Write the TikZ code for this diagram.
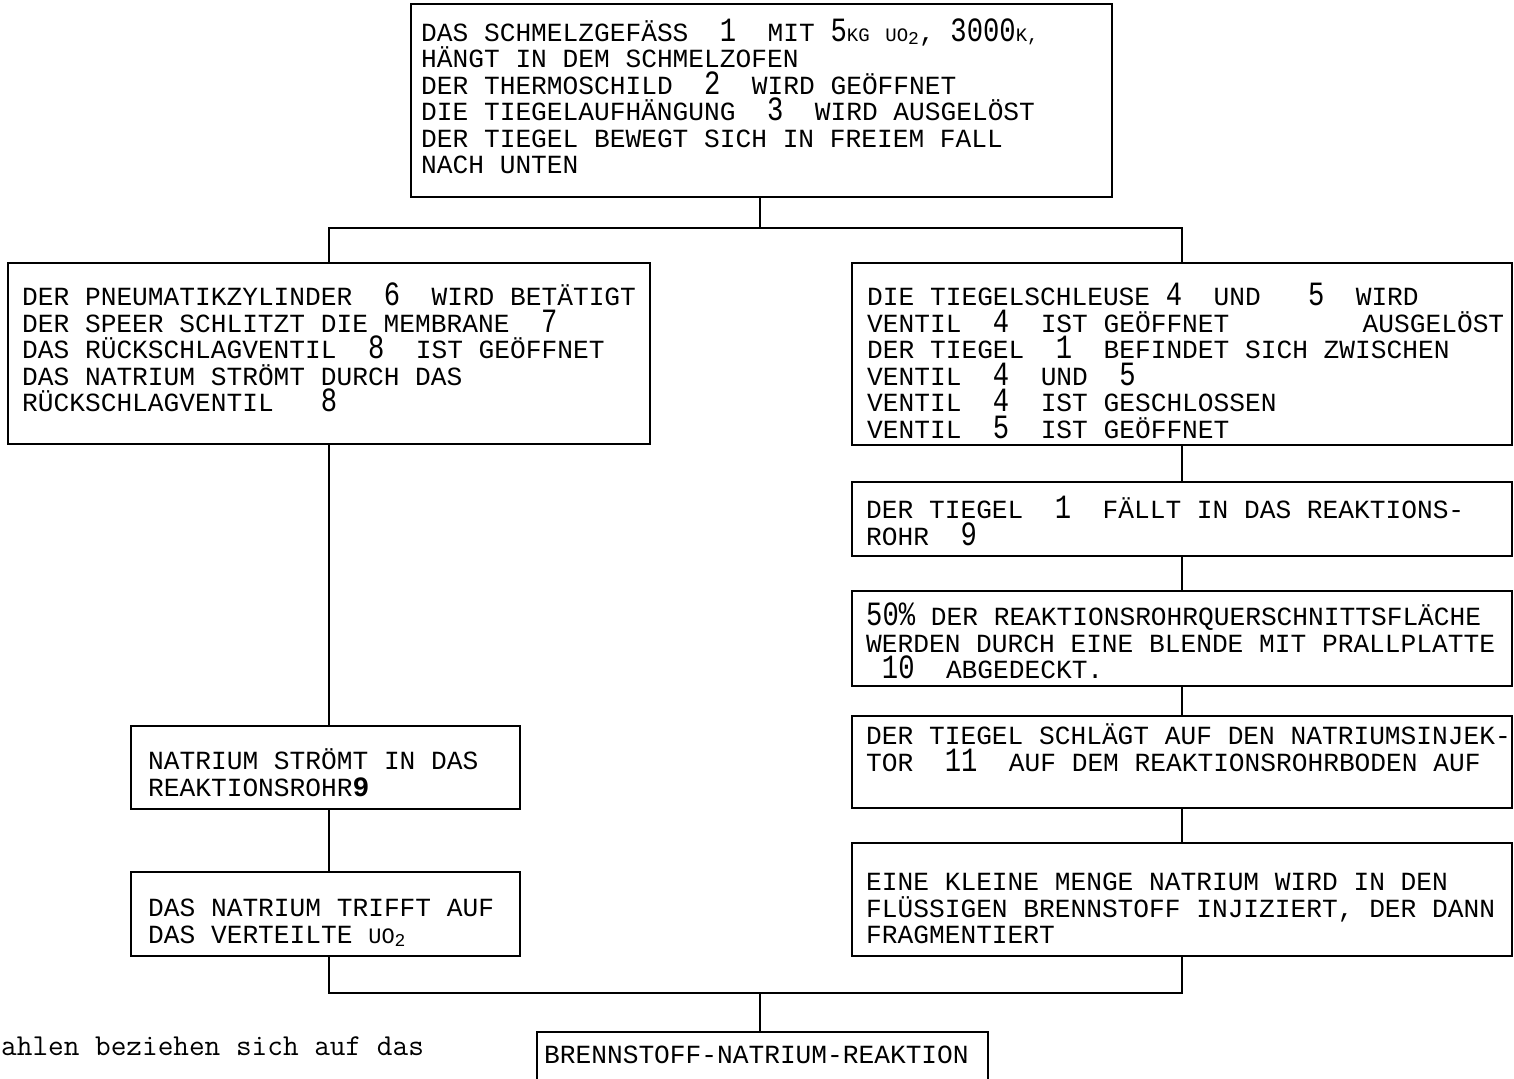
\documentclass[tikz,border=0pt]{standalone}
\usepackage{fontspec}
\newfontfamily\tfont{Liberation Mono}
\newfontfamily\dfont[FakeStretch=0.8]{Liberation Mono}
\newcommand{\Dg}[1]{\smash{{\dfont\fontsize{34}{26.5}\selectfont #1}}}
\newcommand{\Sm}[1]{{\fontsize{19}{26.5}\selectfont #1}}
\newcommand{\Sub}[1]{\raisebox{-3pt}{\fontsize{18}{20}\selectfont #1}}
\newcommand{\setsp}{\spaceskip 15.72pt\relax\xspaceskip 15.72pt\relax}
\tikzset{
  box/.style={draw, line width=1.6pt, inner sep=0pt},
  txt/.style={anchor=base west, inner sep=0pt, align=left,
    font=\tfont\fontsize{26.2}{26.5}\selectfont,
    execute at begin node=\setsp},
  foot/.style={anchor=base west, inner sep=0pt,
    font=\ttfamily\fontsize{30.4}{34}\selectfont},
  con/.style={line width=1.1pt}
}
\begin{document}
\begin{tikzpicture}[x=1pt,y=-1pt]
\useasboundingbox (0,0) rectangle (1514,1078);
% boxes
\node[box, minimum width=701pt, minimum height=193pt] (top) at (761.5,100.5) {};
\node[box, minimum width=642pt, minimum height=181pt] (L1) at (329,353.5) {};
\node[box, minimum width=660pt, minimum height=182pt] (R1) at (1182,354) {};
\node[box, minimum width=389pt, minimum height=83pt] (L2) at (325.5,767.5) {};
\node[box, minimum width=389pt, minimum height=84pt] (L3) at (325.5,914) {};
\node[box, minimum width=660pt, minimum height=74pt] (R2) at (1182,519) {};
\node[box, minimum width=660pt, minimum height=95pt] (R3) at (1182,638.5) {};
\node[box, minimum width=660pt, minimum height=92pt] (R4) at (1182,762) {};
\node[box, minimum width=660pt, minimum height=113pt] (R5) at (1182,899.5) {};
\node[box, line width=2.6pt, minimum width=451pt, minimum height=60pt] (B) at (762.5,1062) {};
% junctions
\coordinate (jt) at (760,228);
\coordinate (jb) at (760,993);
% connectors
\draw[con] (top.south -| jt) -- (jt);
\draw[con] (L1.north) |- (jt) -| (R1.north);
\draw[con] (L1.south) -- (L1.south |- L2.north);
\draw[con] (L2.south -| L1.south) -- (L1.south |- L3.north);
\draw[con] (L3.south -| L1.south) |- (jb) -| (R5.south);
\draw[con] (jb) -- (jb |- B.north);
\draw[con] (R1.south) -- (R2.north);
\draw[con] (R2.south) -- (R3.north);
\draw[con] (R3.south) -- (R4.north);
\draw[con] (R4.south) -- (R5.north);
% texts
\node[txt, text width=680pt] (ttop) at (421,41.5) {DAS SCHMELZGEFÄSS~~\Dg{1}~~MIT \Dg{5}\Sm{KG} \Sm{UO}\Sub{2}, \Dg{3000}\Sm{K,}\\
HÄNGT IN DEM SCHMELZOFEN\\
DER THERMOSCHILD~~\Dg{2}~~WIRD GEÖFFNET\\
DIE TIEGELAUFHÄNGUNG~~\Dg{3}~~WIRD AUSGELÖST\\
DER TIEGEL BEWEGT SICH IN FREIEM FALL\\
NACH UNTEN};
\node[txt, text width=650pt] (tL1) at (22,305.5) {DER PNEUMATIKZYLINDER~~\Dg{6}~~WIRD BETÄTIGT\\
DER SPEER SCHLITZT DIE MEMBRANE~~\Dg{7}\\
DAS RÜCKSCHLAGVENTIL~~\Dg{8}~~IST GEÖFFNET\\
DAS NATRIUM STRÖMT DURCH DAS\\
RÜCKSCHLAGVENTIL~~~\Dg{8}};
\node[txt, text width=637pt] (tR1) at (867,305.5) {DIE TIEGELSCHLEUSE~\Dg{4}~~UND~~~\Dg{5}~~WIRD\\
VENTIL~~\Dg{4}~~IST GEÖFFNET\hfill AUSGELÖST\\
DER TIEGEL~~\Dg{1}~~BEFINDET SICH ZWISCHEN\\
VENTIL~~\Dg{4}~~UND~~\Dg{5}\\
VENTIL~~\Dg{4}~~IST GESCHLOSSEN\\
VENTIL~~\Dg{5}~~IST GEÖFFNET};
\node[txt, text width=650pt] (tR2) at (866,518.5) {DER TIEGEL~~\Dg{1}~~FÄLLT IN DAS REAKTIONS-\\
ROHR~~\Dg{9}};
\node[txt, text width=650pt] (tR3) at (866,625.5) {\Dg{50\%}~DER REAKTIONSROHRQUERSCHNITTSFLÄCHE\\
WERDEN DURCH EINE BLENDE MIT PRALLPLATTE\\
~\Dg{10}~~ABGEDECKT.};
\node[txt, text width=650pt] (tR4) at (866,744.5) {DER TIEGEL SCHLÄGT AUF DEN NATRIUMSINJEK-\\
TOR~~\Dg{11}~~AUF DEM REAKTIONSROHRBODEN AUF};
\node[txt, text width=650pt] (tR5) at (866,890.5) {EINE KLEINE MENGE NATRIUM WIRD IN DEN\\
FLÜSSIGEN BRENNSTOFF INJIZIERT, DER DANN\\
FRAGMENTIERT};
\node[txt, text width=370pt] (tL2) at (148,769.5) {NATRIUM STRÖMT IN DAS\\
REAKTIONSROHR{\bfseries\fontsize{28}{26.5}\selectfont 9}};
\node[txt, text width=370pt] (tL3) at (148,916.5) {DAS NATRIUM TRIFFT AUF\\
DAS VERTEILTE {\fontsize{22}{26.5}\selectfont UO}\Sub{2}};
\node[txt, text width=440pt] (tB) at (544,1063.5) {BRENNSTOFF-NATRIUM-REAKTION};
\node[foot] (fn) at (1,1055) {ahlen beziehen sich auf das};
\end{tikzpicture}
\end{document}
